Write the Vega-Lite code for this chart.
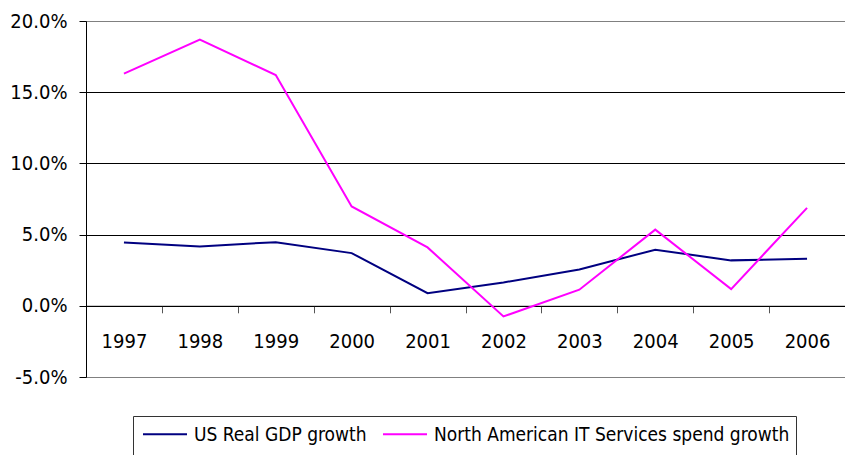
{
  "$schema": "https://vega.github.io/schema/vega-lite/v6.json",
  "width": 759,
  "height": 356,
  "autosize": {"type": "none"},
  "padding": {"left": 86, "top": 21, "right": 0, "bottom": 78},
  "background": "white",
  "config": {
    "view": {"stroke": "#808080", "strokeWidth": 1},
    "font": "DejaVu Sans Condensed"
  },
  "data": {
    "values": [
      {"year": "1997", "series": "US Real GDP growth", "value": 4.45},
      {"year": "1998", "series": "US Real GDP growth", "value": 4.17},
      {"year": "1999", "series": "US Real GDP growth", "value": 4.47},
      {"year": "2000", "series": "US Real GDP growth", "value": 3.7},
      {"year": "2001", "series": "US Real GDP growth", "value": 0.89},
      {"year": "2002", "series": "US Real GDP growth", "value": 1.64},
      {"year": "2003", "series": "US Real GDP growth", "value": 2.55},
      {"year": "2004", "series": "US Real GDP growth", "value": 3.94},
      {"year": "2005", "series": "US Real GDP growth", "value": 3.19},
      {"year": "2006", "series": "US Real GDP growth", "value": 3.31},
      {"year": "1997", "series": "North American IT Services spend growth", "value": 16.3},
      {"year": "1998", "series": "North American IT Services spend growth", "value": 18.7},
      {"year": "1999", "series": "North American IT Services spend growth", "value": 16.2},
      {"year": "2000", "series": "North American IT Services spend growth", "value": 6.98},
      {"year": "2001", "series": "North American IT Services spend growth", "value": 4.1},
      {"year": "2002", "series": "North American IT Services spend growth", "value": -0.75},
      {"year": "2003", "series": "North American IT Services spend growth", "value": 1.13},
      {"year": "2004", "series": "North American IT Services spend growth", "value": 5.35},
      {"year": "2005", "series": "North American IT Services spend growth", "value": 1.17},
      {"year": "2006", "series": "North American IT Services spend growth", "value": 6.88}
    ]
  },
  "mark": {"type": "line", "strokeWidth": 2},
  "encoding": {
    "x": {
      "field": "year",
      "type": "ordinal",
      "bandPosition": 0.5,
      "scale": {"type": "band", "paddingInner": 0, "paddingOuter": 0},
      "axis": {
        "title": null,
        "orient": "bottom",
        "offset": -71.2,
        "domain": true,
        "domainColor": "#000000",
        "domainWidth": 1,
        "ticks": true,
        "tickBand": "extent",
        "tickColor": "#555555",
        "tickSize": 7,
        "labelFontSize": 20,
        "labelColor": "#000000",
        "labelPadding": 19,
        "labelAngle": 0,
        "grid": false
      }
    },
    "y": {
      "field": "value",
      "type": "quantitative",
      "scale": {"domain": [-5, 20], "nice": false, "zero": false},
      "axis": {
        "title": null,
        "values": [-5, 0, 5, 10, 15, 20],
        "labelExpr": "(datum.value < 0 ? '-' : '') + format(abs(datum.value), '.1f') + '%'",
        "domain": true,
        "domainColor": "#000000",
        "ticks": true,
        "tickColor": "#000000",
        "tickSize": 7,
        "labelFontSize": 20,
        "labelColor": "#000000",
        "labelPadding": 12,
        "grid": true,
        "gridColor": {"condition": {"test": "datum.value == 20 || datum.value == -5", "value": "#808080"}, "value": "#000000"},
        "gridWidth": 1
      }
    },
    "color": {
      "field": "series",
      "type": "nominal",
      "scale": {
        "domain": ["US Real GDP growth", "North American IT Services spend growth"],
        "range": ["#000080", "#FF00FF"]
      },
      "legend": {
        "title": null,
        "orient": "none",
        "legendX": 47,
        "legendY": 395,
        "direction": "horizontal",
        "symbolType": "M-1,-0.5L1,-0.5M0,1.2L0,1.2",
        "symbolSize": 1936,
        "symbolOffset": 3,
        "symbolStrokeWidth": 2,
        "labelFontSize": 19,
        "labelBaseline": "bottom",
        "labelColor": "#000000",
        "labelLimit": 0,
        "labelOffset": 6,
        "columnPadding": 12,
        "padding": 6,
        "strokeColor": "#333333",
        "fillColor": "#FFFFFF"
      }
    }
  }
}
